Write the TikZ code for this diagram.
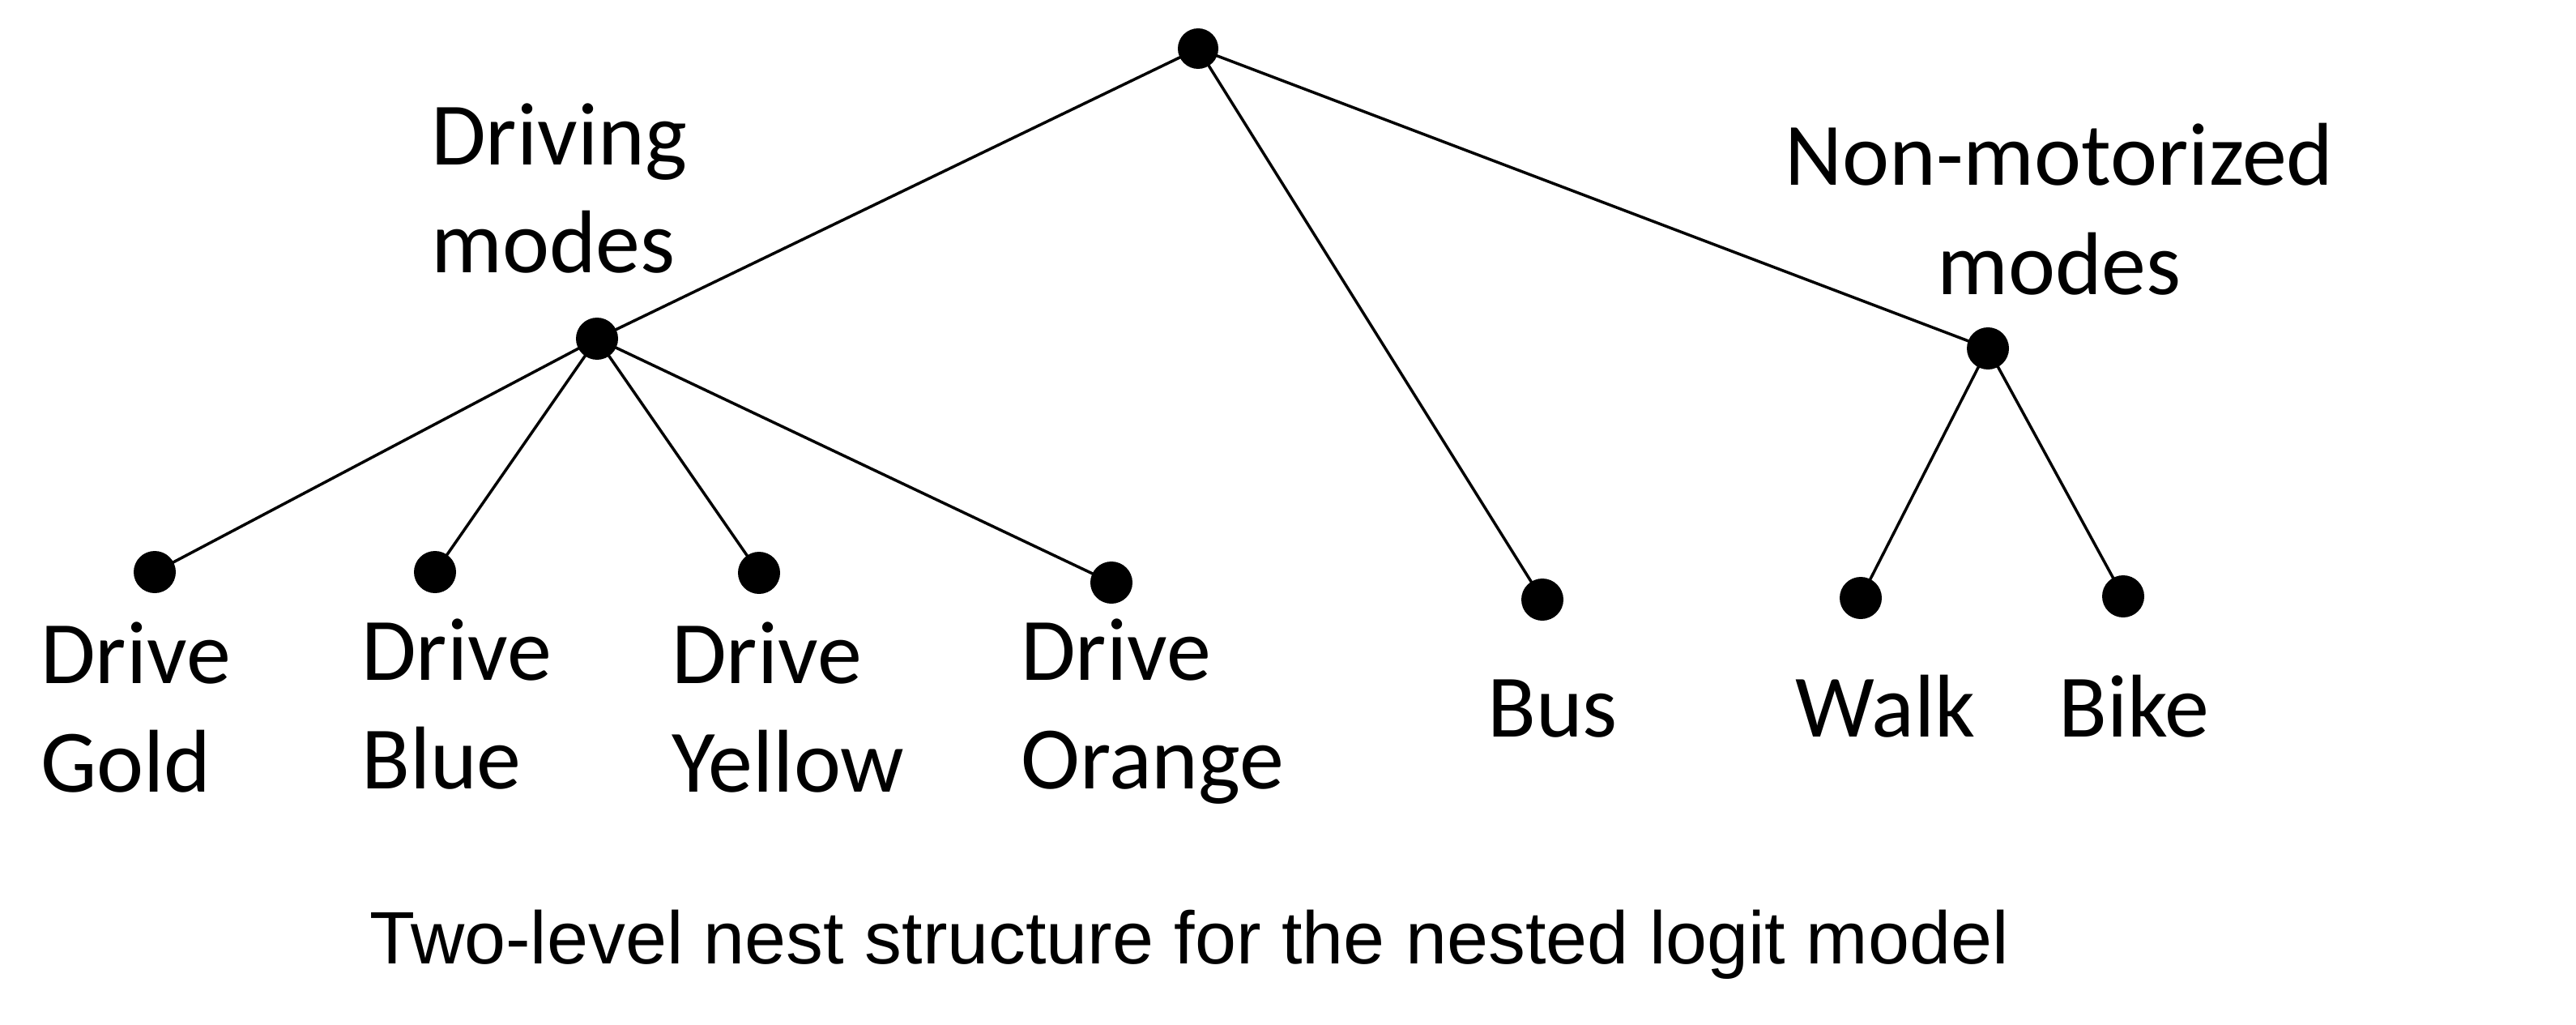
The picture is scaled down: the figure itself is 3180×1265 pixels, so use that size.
\documentclass[tikz,border=0pt]{standalone}
\usepackage{fontspec}
\setmainfont{Carlito}
\newfontfamily\capfont{Liberation Sans}
\begin{document}
\begin{tikzpicture}[x=1pt,y=-1pt,
  dot/.style={circle,fill=black,inner sep=0pt,minimum size=52pt},
  edge/.style={line width=3.5pt,black},
  lbl/.style={inner sep=0pt,align=left,font=\fontsize{110}{134}\selectfont},
  clbl/.style={inner sep=0pt,align=center,font=\fontsize{110}{135}\selectfont},
  captext/.style={inner sep=0pt,font=\capfont\fontsize{91.7}{110}\selectfont}]
\useasboundingbox (0,0) rectangle (3180,1265);
% dots
\node[dot,minimum size=50pt] (root) at (1479,60) {};
\node[dot] (drv) at (737,418) {};
\node[dot] (nm) at (2454,430) {};
\node[dot] (gold) at (191,706) {};
\node[dot] (blue) at (537,706) {};
\node[dot] (yellow) at (937,707) {};
\node[dot] (orange) at (1372,719) {};
\node[dot] (bus) at (1904,740) {};
\node[dot] (walk) at (2297,738) {};
\node[dot] (bike) at (2621,736) {};
% edges
\draw[edge] (root.center) -- (drv.center);
\draw[edge] (root.center) -- (bus.center);
\draw[edge] (root.center) -- (nm.center);
\draw[edge] (drv.center) -- (gold.center);
\draw[edge] (drv.center) -- (blue.center);
\draw[edge] (drv.center) -- (yellow.center);
\draw[edge] (drv.center) -- (orange.center);
\draw[edge] (nm.center) -- (walk.center);
\draw[edge] (nm.center) -- (bike.center);
% labels (base anchor = baseline of last line)
\node[lbl,anchor=base west] (tdrv) at (532,337) {Driving\\modes};
\node[clbl,anchor=base] (tnm) at (2542,363) {Non-motorized\\modes};
\node[lbl,anchor=base west] (tgold) at (50,977) {Drive\\Gold};
\node[lbl,anchor=base west] (tblue) at (446,973) {Drive\\Blue};
\node[lbl,anchor=base west] (tyellow) at (829,977) {Drive\\Yellow};
\node[lbl,anchor=base west] (torange) at (1260,973) {Drive\\Orange};
\node[lbl,anchor=base west] (tbus) at (1836,909) {Bus};
\node[lbl,anchor=base west] (twalk) at (2216,909) {Walk};
\node[lbl,anchor=base west] (tbike) at (2541,909) {Bike};
\node[captext,anchor=base west] (caption) at (456,1189) {Two-level nest structure for the nested logit model};
\end{tikzpicture}
\end{document}
